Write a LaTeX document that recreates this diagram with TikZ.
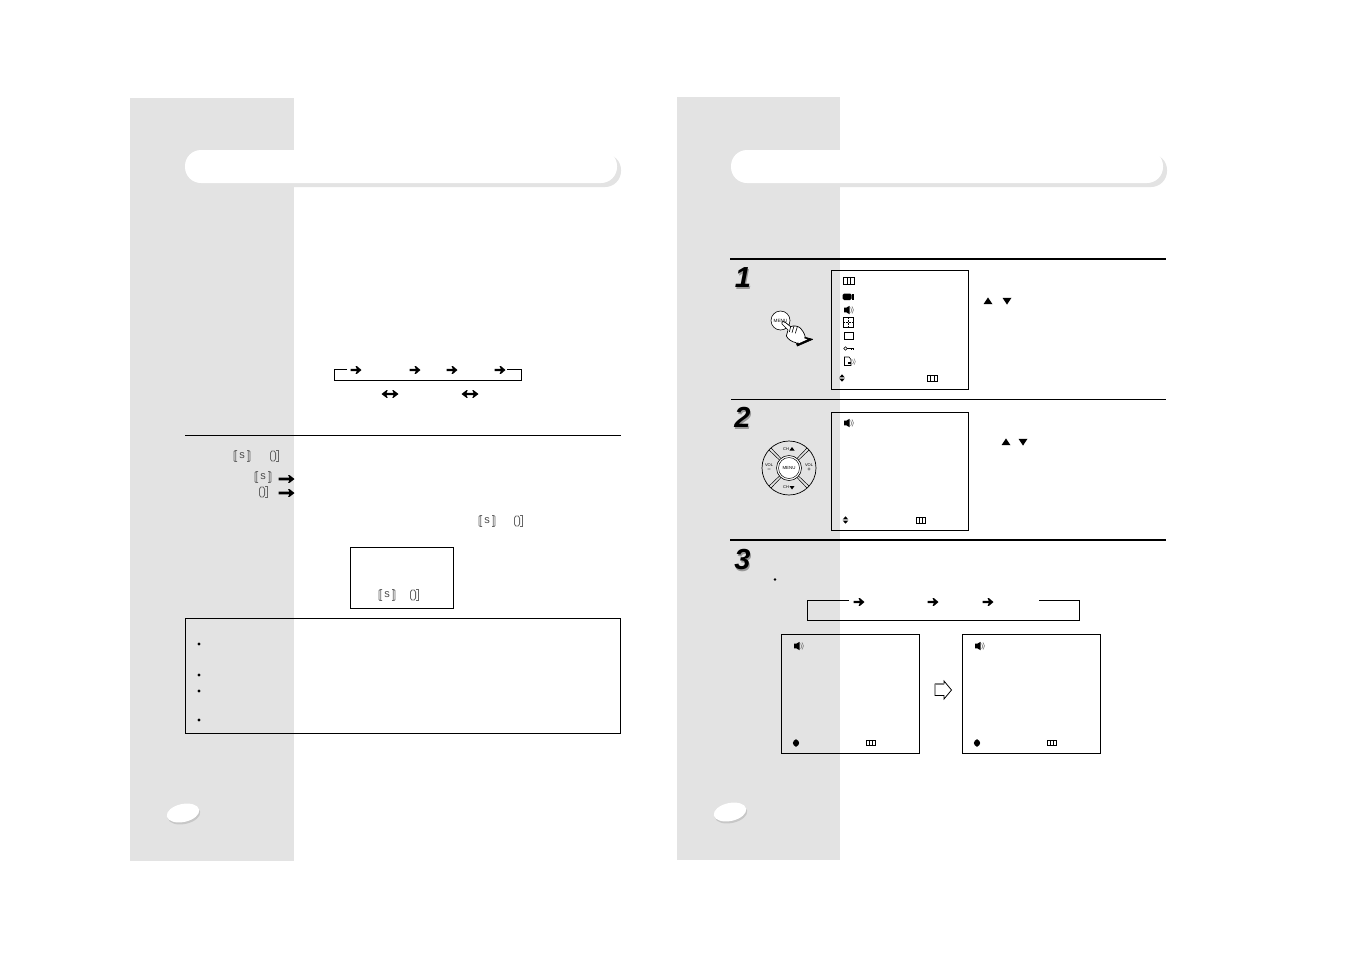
\documentclass[tikz,border=0pt]{standalone}
\usepackage{fontspec}
\usetikzlibrary{calc}
\setmainfont{Liberation Sans}
\definecolor{pagegrey}{HTML}{E3E3E3}
\tikzset{
  frameline/.style={draw=black,line width=1pt,fill=none},
  screenbox/.style={draw=black,line width=1pt,fill=none,outer sep=0pt},
  banner/.style={fill=white,rounded corners=16pt},
  bannershadow/.style={fill=pagegrey,rounded corners=16pt},
  numeral/.style={font=\fontsize{29}{29}\selectfont\bfseries\itshape,inner sep=0pt},
  tiny label/.style={font=\fontsize{4}{4}\selectfont,inner sep=0pt},
  notebullet/.style={fill=black},
  rarrowpic/.pic={\fill[black] (-5.5,-1.2) -- (0.8,-1.2) -- (-0.4,-3.8) -- (1,-3.8) -- (5.5,0) -- (1,3.8) -- (-0.4,3.8) -- (0.8,1.2) -- (-5.5,1.2) -- cycle;},
  longarrowpic/.pic={\fill[black] (-8,-1.4) -- (2.8,-1.4) -- (1.6,-3.9) -- (3,-3.9) -- (8,0) -- (3,3.9) -- (1.6,3.9) -- (2.8,1.4) -- (-8,1.4) -- cycle;},
  bothpic/.pic={\fill[black] (-8.5,0) -- (-3.5,-3.8) -- (-2.3,-3.8) -- (-3.6,-1.1) -- (3.6,-1.1) -- (2.3,-3.8) -- (3.5,-3.8) -- (8.5,0) -- (3.5,3.8) -- (2.3,3.8) -- (3.6,1.1) -- (-3.6,1.1) -- (-2.3,3.8) -- (-3.5,3.8) -- cycle;},
  speakerpic/.pic={\fill[black] (-5,-2.4) -- (-2.6,-2.4) -- (0.6,-4.2) -- (0.6,4.2) -- (-2.6,2.4) -- (-5,2.4) -- cycle;
     \draw[gray,line width=.6pt] (1.6,-2.6) arc (-50:50:3.4);
     \draw[gray,line width=.6pt] (3,-3.6) arc (-45:45:5);},
  gridpic/.pic={\draw[black,line width=1pt] (-5.5,-3.2) rectangle (5.5,3.2) (-1.8,-3.2) -- (-1.8,3.2) (1.8,-3.2) -- (1.8,3.2);},
  smallgridpic/.pic={\draw[black,line width=1pt] (-4.2,-2.6) rectangle (4.2,2.6) (-1.4,-2.6) -- (-1.4,2.6) (1.4,-2.6) -- (1.4,2.6);},
  updownpic/.pic={\fill[black] (-2.8,-.6) -- (0,-3.6) -- (2.8,-.6) -- cycle (-2.8,.6) -- (0,3.6) -- (2.8,.6) -- cycle;},
  diamondpic/.pic={\fill[black] (-3.2,0) -- (-2.2,-2.2) -- (0,-3.8) -- (2.2,-2.2) -- (3.2,0) -- (2.2,2.2) -- (0,3.8) -- (-2.2,2.2) -- cycle;},
  triuppic/.pic={\fill[black] (-4.5,3.2) -- (0,-3.6) -- (4.5,3.2) -- cycle;},
  tridownpic/.pic={\fill[black] (-4.5,-3.2) -- (0,3.6) -- (4.5,-3.2) -- cycle;},
  srspic/.pic={\node[text=black!70,inner sep=0pt,font=\fontsize{11}{11}\selectfont] at (0,-.3) {s};
     \draw[black!60,line width=.7pt,rounded corners=1pt] (-5,-5.5) -- (-8,-5.5) -- (-8,5.5) -- (-5,5.5) (-6.3,-5.5) -- (-6.3,5.5)
        (5,-5.5) -- (8,-5.5) -- (8,5.5) -- (5,5.5) (6.3,-5.5) -- (6.3,5.5);},
  opic/.pic={\draw[black!60,line width=.8pt] (-2.2,-5) -- (0.2,-5) -- (1.6,-3) -- (1.6,3) -- (0.2,5) -- (-2.2,5) -- (-3.6,3) -- (-3.6,-3) -- cycle;
     \draw[black!60,line width=.7pt] (2.4,-5.5) -- (4.6,-5.5) -- (4.6,5.5) -- (2.4,5.5);}
}
\begin{document}
\begin{tikzpicture}[x=1pt,y=-1pt,line join=miter]
\useasboundingbox (0,0) rectangle (1351,954);
\fill[white] (0,0) rectangle (1351,954);
% page strips
\fill[pagegrey] (130,98) rectangle (294,861);
\fill[pagegrey] (677,97) rectangle (840,860);
% banners
\fill[bannershadow] (189,154) rectangle (621,187);
\fill[banner] (185,150) rectangle (617,183);
\fill[bannershadow] (735,154) rectangle (1167,187);
\fill[banner] (731,150) rectangle (1163,183);
% page ovals
\fill[black!22,rotate around={12:(184,815)}] (184,815) ellipse (16.5 and 9);
\fill[white,rotate around={12:(183,813)}] (183,813) ellipse (16.5 and 9);
\fill[black!22,rotate around={12:(731,814)}] (731,814) ellipse (16.5 and 9);
\fill[white,rotate around={12:(730,812)}] (730,812) ellipse (16.5 and 9);

% ---------- left page
\coordinate (seqA) at (347,369.5); \coordinate (seqB) at (334,369.5);
\coordinate (seqC) at (334,380); \coordinate (seqD) at (521,380);
\coordinate (seqE) at (521,369.5); \coordinate (seqF) at (507,369.5);
\draw[frameline] (seqA) -- (seqB) -- (seqC) -- (seqD) -- (seqE) -- (seqF);
\pic at (356,370) {rarrowpic};
\pic at (415,370) {rarrowpic};
\pic at (452,370) {rarrowpic};
\pic at (500,370) {rarrowpic};
\pic at (390,394) {bothpic};
\pic at (470,394) {bothpic};
\coordinate (ruleL) at (185,435.5); \coordinate (ruleR) at (621,435.5);
\draw[line width=1pt] (ruleL) -- (ruleR);
\pic at (242,456) {srspic};
\pic at (274,456) {opic};
\pic at (263,477) {srspic};
\pic at (286.5,479) {longarrowpic};
\pic at (263,492) {opic};
\pic at (286.5,493) {longarrowpic};
\pic at (487,521) {srspic};
\pic at (518,521) {opic};
\node[screenbox,minimum width=103.5pt,minimum height=61.5pt,inner sep=0pt,anchor=north west] (logobox) at (350,547) {};
\pic at (387,595) {srspic};
\pic at (414,595) {opic};
\node[screenbox,minimum width=435pt,minimum height=115.5pt,inner sep=0pt,anchor=north west] (notebox) at (185.5,618) {};
\foreach \yy in {644,675,691,720} \fill[notebullet] (199,\yy) circle (1.6);

% ---------- right page rules
\coordinate (ra1) at (730,258.5); \coordinate (ra2) at (1166,258.5);
\coordinate (rb1) at (731,399.5); \coordinate (rb2) at (1166,399.5);
\coordinate (rc1) at (730,539.8); \coordinate (rc2) at (1166,539.8);
\draw[line width=2pt] (ra1) -- (ra2);
\draw[line width=.8pt] (rb1) -- (rb2);
\draw[line width=2pt] (rc1) -- (rc2);
% numerals
\node[numeral,text=black!40] at (744,280) {1};
\node[numeral] (numone) at (743,278) {1};
\node[numeral,text=black!40] at (743.5,419) {2};
\node[numeral] (numtwo) at (742.5,417) {2};
\node[numeral,text=black!40] at (743.5,562) {3};
\node[numeral] (numthree) at (742.5,560) {3};

% step 1 screen
\node[screenbox,minimum width=137.5pt,minimum height=119pt,inner sep=0pt,anchor=north west] (screenone) at (831,270) {};
\pic at (849,281) {gridpic};
\fill[black,rounded corners=1.5pt] (842.5,293.5) rectangle (851.5,300);
\fill[black] (852,293.5) rectangle (853.8,300);
\pic at (849,310) {speakerpic};
\draw[black,line width=.9pt] (843.5,317.5) rectangle (853.5,327.5);
\draw[black,line width=.5pt,densely dotted] (848.5,318) -- (848.5,327) (844,322.5) -- (853,322.5);
\draw[black,line width=.9pt] (844,332) rectangle (853,339.5);
\draw[black,line width=1pt] (844,332) -- (844,339.5);
\draw[black,line width=.6pt] (845.5,348.5) circle (1.7);
\draw[black,line width=.9pt] (847.2,348.5) -- (854,348.5) (851,348.5) -- (851,350) (853,348.5) -- (853,350);
\draw[black,line width=.6pt] (844.5,357) -- (849,357) -- (851,359.5) -- (851,365.5) -- (844.5,365.5) -- cycle;
\fill[black] (847.5,361.5) -- (850.5,361.5) -- (850.5,364) -- (847.5,364) -- cycle;
\draw[gray,line width=.5pt] (852.5,359.5) arc (-50:50:3) (854,358.5) arc (-45:45:4.5);
\pic at (842,378) {updownpic};
\pic[scale=.85] at (932.5,378.5) {gridpic};
\pic at (988,301) {triuppic};
\pic at (1007,301) {tridownpic};
% menu button and hand
\node[circle,draw=black,line width=.6pt,fill=white,minimum size=19pt,inner sep=0pt,tiny label] (menubtn) at (780.5,320.5) {\fontsize{4.6}{5}\selectfont MENU};
\begin{scope}[shift={(720,250)},scale=1/3]
\draw[black,line width=.7pt,fill=white,line join=round]
  (186,222) .. controls (184,213) and (192,212) .. (197,218)
  -- (212,230) .. controls (220,226) and (232,228) .. (238,232)
  .. controls (248,240) and (254,252) .. (256,262)
  -- (278,268) -- (232,288) -- (228,278)
  .. controls (216,276) and (204,268) .. (199,258)
  -- (204,240) -- cycle;
\draw[black,line width=.6pt] (212,230) -- (208,246) (222,228) -- (216,248) (232,230) -- (226,250)
  (256,262) -- (232,284);
\fill[black] (256,262) -- (278,268) -- (232,288) -- (230,280) -- cycle;
\fill[white] (250,264) -- (262,268) -- (236,280) -- (234,276) -- cycle;
\end{scope}

% step 2 screen
\node[screenbox,minimum width=137.5pt,minimum height=117.5pt,inner sep=0pt,anchor=north west] (screentwo) at (831,412.5) {};
\pic at (849,423) {speakerpic};
\pic at (845.5,520) {updownpic};
\pic[scale=.85] at (921,520.5) {gridpic};
\pic at (1006,442) {triuppic};
\pic at (1023,442) {tridownpic};
% direction pad
\node[circle,draw=black,line width=.7pt,minimum size=54pt,inner sep=0pt] (padouter) at (789,468) {};
\foreach \aa in {45,135,225,315} {
  \draw[black,line width=.5pt] ($(789,468)+(\aa-5:12.5)$) -- ($(789,468)+(\aa-3:27)$);
  \draw[black,line width=.5pt] ($(789,468)+(\aa+5:12.5)$) -- ($(789,468)+(\aa+3:27)$);
}
\node[circle,draw=black,line width=.6pt,fill=white,minimum size=25pt,inner sep=0pt] (padring) at (789,468) {};
\node[circle,draw=black,line width=.5pt,fill=white,minimum size=21pt,inner sep=0pt,tiny label] (padmenu) at (789,468) {\fontsize{4.4}{5}\selectfont MENU};
\node[tiny label] (padup) at (786,449) {CH};
\fill[black] (789.5,450.5) -- (792,447) -- (794.5,450.5) -- cycle;
\node[tiny label] (paddown) at (786,487.5) {CH};
\fill[black] (789.5,486) -- (794.5,486) -- (792,489.5) -- cycle;
\node[tiny label,align=center] (padleft) at (769,468) {VOL\\[1pt]\fontsize{6}{6}\selectfont \textminus};
\node[tiny label,align=center] (padright) at (809,468) {VOL\\[1pt]\fontsize{6}{6}\selectfont +};

% step 3
\fill[black] (775,579.5) circle (1.4);
\coordinate (fa) at (849,600.5); \coordinate (fb) at (807,600.5);
\coordinate (fc) at (807,620); \coordinate (fd) at (1079.5,620);
\coordinate (fe) at (1079.5,600.5); \coordinate (ff) at (1039,600.5);
\draw[frameline] (fa) -- (fb) -- (fc) -- (fd) -- (fe) -- (ff);
\pic at (859,602) {rarrowpic};
\pic at (933,602) {rarrowpic};
\pic at (988,602) {rarrowpic};
\node[screenbox,minimum width=138.5pt,minimum height=119.5pt,inner sep=0pt,anchor=north west] (screenthree) at (781,634) {};
\pic at (799,646) {speakerpic};
\pic at (796,743) {diamondpic};
\pic at (871,743) {smallgridpic};
\node[screenbox,minimum width=138pt,minimum height=119.5pt,inner sep=0pt,anchor=north west] (screenfour) at (962.5,634) {};
\pic at (980,646) {speakerpic};
\pic at (977,743) {diamondpic};
\pic at (1052,743) {smallgridpic};
% hollow arrow
\draw[black,line width=.8pt] (944,684) -- (935,684) -- (935,695.5) -- (944,695.5) -- (944,699) -- (951.5,690) -- (944,681) -- (944,684);
\draw[black!50,line width=1.2pt] (935,684) -- (944,684);
\end{tikzpicture}
\end{document}
